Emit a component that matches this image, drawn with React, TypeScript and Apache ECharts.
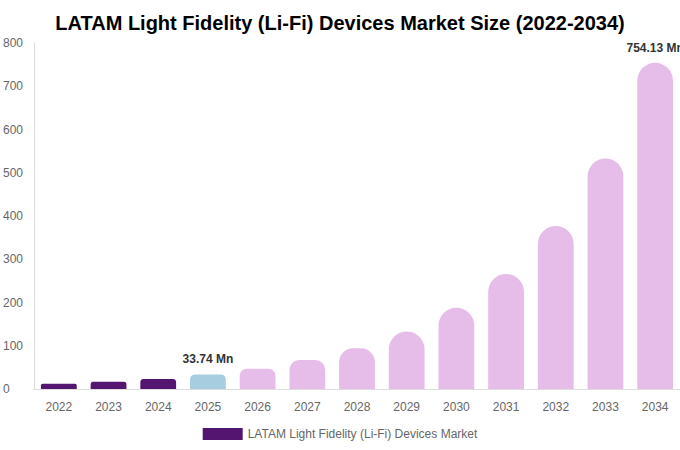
import React, { useEffect, useRef } from 'react';
import * as echarts from 'echarts';

const years = ['2022', '2023', '2024', '2025', '2026', '2027', '2028', '2029', '2030', '2031', '2032', '2033', '2034'];
const marketSize = [12, 17, 23, 33.74, 47, 67, 94, 133, 188, 266, 377, 533, 754.13];
// which bars carry a value label
const labelled = ['2025', '2034'];

const PAST = '#541571';
const CURRENT = '#a6cde0';
const FORECAST = '#e6bde9';

const App: React.FC = () => {
  const chartRef = useRef<HTMLDivElement | null>(null);

  useEffect(() => {
    document.body.style.margin = '0';
    if (!chartRef.current) return;
    const chart = echarts.init(chartRef.current, undefined, { renderer: 'svg' });

    // plot is 346px tall for 800 units; corners grow with bar height, capped at half the bar width
    const pxPerUnit = 346 / 800;

    const data = marketSize.map((v, i) => {
      const year = years[i];
      const color = +year < 2025 ? PAST : +year === 2025 ? CURRENT : FORECAST;
      const r = Math.min(18, v * pxPerUnit * 0.34);
      return {
        value: v,
        itemStyle: { color, borderRadius: [r, r, 0, 0] },
        label: {
          show: labelled.includes(year),
          position: 'top' as const,
          formatter: `${v.toFixed(2)} Mn`,
          fontWeight: 'bold' as const,
          fontSize: 12,
          color: '#333',
          distance: 9,
        },
      };
    });

    chart.setOption({
      animation: false,
      textStyle: { fontFamily: 'Liberation Sans, Arial, sans-serif' },
      title: {
        text: 'LATAM Light Fidelity (Li-Fi) Devices Market Size (2022-2034)',
        left: 'center',
        top: 8,
        textStyle: { fontSize: 20, fontWeight: 'bold', color: '#000' },
      },
      legend: {
        bottom: 5,
        left: 'center',
        itemWidth: 40,
        itemHeight: 12,
        itemGap: 6,
        icon: 'rect',
        textStyle: { color: '#666', fontSize: 12 },
        data: [{ name: 'LATAM Light Fidelity (Li-Fi) Devices Market', itemStyle: { color: PAST } }],
      },
      grid: { left: 34, right: 0, top: 43, bottom: 61, containLabel: false },
      xAxis: {
        type: 'category',
        data: years,
        axisLine: { lineStyle: { color: '#ddd' } },
        axisTick: { show: false },
        axisLabel: { color: '#666', fontSize: 12, margin: 12 },
      },
      yAxis: {
        type: 'value',
        min: 0,
        max: 800,
        interval: 100,
        axisLine: { show: true, lineStyle: { color: '#ddd' } },
        axisTick: { show: false },
        splitLine: { show: false },
        axisLabel: { color: '#666', fontSize: 12, align: 'left', margin: 31 },
      },
      series: [
        {
          name: 'LATAM Light Fidelity (Li-Fi) Devices Market',
          type: 'bar',
          barWidth: '72%',
          data,
        },
      ],
    });

    return () => {
      chart.dispose();
    };
  }, []);

  return <div ref={chartRef} style={{ width: '680px', height: '450px' }} />;
};

export default App;
